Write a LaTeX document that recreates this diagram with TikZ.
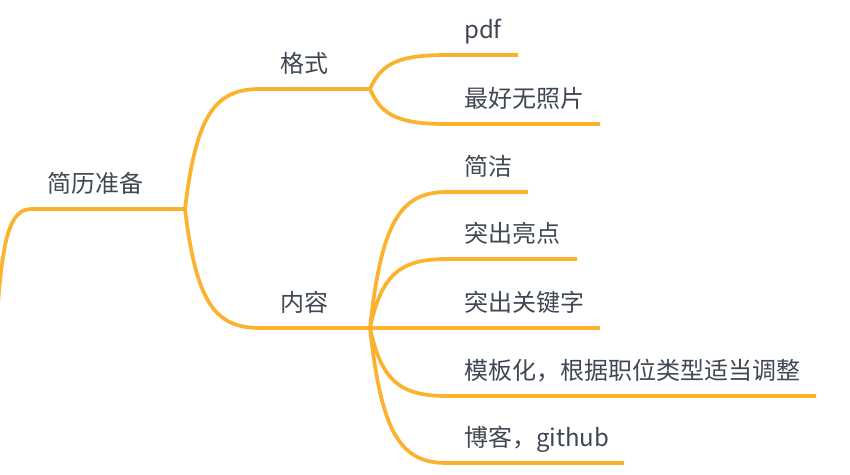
\documentclass[tikz,border=0pt]{standalone}
\usepackage{fontspec}
\setmainfont{Noto Sans CJK SC}
\usetikzlibrary{calc}
\definecolor{lineor}{HTML}{FBB22E}
\definecolor{txt}{HTML}{3F4852}
\tikzset{
  conn/.style={draw=lineor, line width=3.7pt, line cap=butt, line join=round},
  branch/.style={to path={.. controls ($(\tikztostart)!0.75!(\tikztostart|-\tikztotarget)!0.15!(\tikztotarget)$) and ($(\tikztostart|-\tikztotarget)!0.4!(\tikztotarget)$) .. (\tikztotarget)}},
  lbl/.style={anchor=base west, inner sep=0pt, text=txt, font=\fontsize{24}{24}\selectfont}
}
\begin{document}
\begin{tikzpicture}[x=1pt,y=-1pt]
\useasboundingbox (0,0) rectangle (850,474);
% branch points
\coordinate (r0) at (-3,320);
\coordinate (r1) at (32,209);
\coordinate (r2) at (185,209);
\coordinate (g1) at (260,89);
\coordinate (g2) at (370,89);
\coordinate (n1) at (260,328);
\coordinate (n2) at (370,328);
% leaf lines
\coordinate (p1) at (447,55);  \coordinate (p2) at (518,55);
\coordinate (z1) at (447,124); \coordinate (z2) at (600,124);
\coordinate (j1) at (447,192); \coordinate (j2) at (528,192);
\coordinate (l1) at (447,259); \coordinate (l2) at (577,259);
\coordinate (k1) at (447,328); \coordinate (k2) at (600,328);
\coordinate (m1) at (447,396); \coordinate (m2) at (816,396);
\coordinate (b1) at (447,463); \coordinate (b2) at (624,463);

\draw[conn] (r0) to[branch] (r1) -- (r2);
\draw[conn] (r2) to[branch] (g1) -- (g2);
\draw[conn] (r2) to[branch] (n1) -- (n2);
\draw[conn] (g2) to[branch] (p1) -- (p2);
\draw[conn] (g2) to[branch] (z1) -- (z2);
\draw[conn] (n2) to[branch] (j1) -- (j2);
\draw[conn] (n2) to[branch] (l1) -- (l2);
\draw[conn] (n2) -- (k2);
\draw[conn] (n2) to[branch] (m1) -- (m2);
\draw[conn] (n2) to[branch] (b1) -- (b2);

\node[lbl] (root) at (47,192) {简历准备};
\node[lbl] (geshi) at (280,72) {格式};
\node[lbl] (neirong) at (280,311) {内容};
\node[lbl] (pdf) at (464,38) {pdf};
\node[lbl] (zhaopian) at (464,107) {最好无照片};
\node[lbl] (jianjie) at (464,175) {简洁};
\node[lbl] (liangdian) at (464,242) {突出亮点};
\node[lbl] (guanjianzi) at (464,311) {突出关键字};
\node[lbl] (mobanhua) at (464,379) {模板化，根据职位类型适当调整};
\node[lbl] (boke) at (464,446) {博客，github};
\end{tikzpicture}
\end{document}
